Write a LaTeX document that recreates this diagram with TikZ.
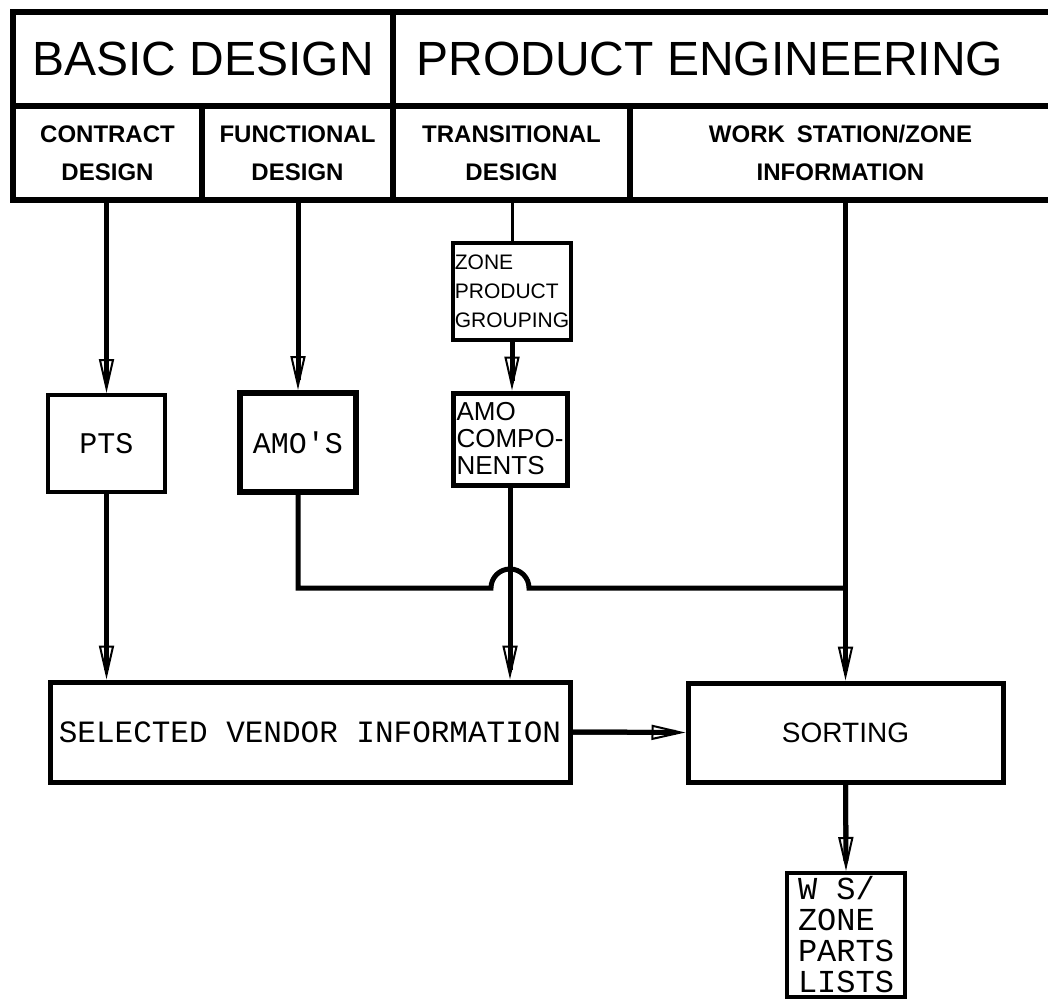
\documentclass[tikz,border=0pt]{standalone}
\usepackage{fontspec}
\setmainfont{Liberation Sans}
\newfontfamily\plotfont{Liberation Mono}
\usetikzlibrary{arrows.meta, calc}

\begin{document}
\begin{tikzpicture}[
  x=0.5pt, y=0.5pt,
  cell/.style={rectangle, draw=black, line width=3pt, minimum height=47pt, inner sep=0pt, align=center},
  toplabel/.style={font=\fontsize{24}{28}\selectfont},
  sublabel/.style={font=\fontsize{12}{19}\selectfont\bfseries},
  box/.style={rectangle, draw=black, line width=2pt, inner sep=1pt, align=center},
  plot/.style={font=\plotfont\fontsize{15}{17}\selectfont},
  arrow/.style={line width=2.5pt, -{Triangle[open, length=17pt, width=7.5pt, line width=1pt]},
                postaction={draw, line width=2.5pt, -, shorten >=5pt}},
  link/.style={line width=2.5pt}
]
\useasboundingbox (0,0) rectangle (1048,998);

% Header: design stages
\node[cell, toplabel, minimum width=190pt] (basic) at (203,939) {BASIC DESIGN};
\node[cell, toplabel, minimum width=329pt] (product) at (722,939) {PRODUCT ENGINEERING\hspace*{12pt}};
\node[cell, sublabel, minimum width=94.5pt] (contract) at (107.5,845) {CONTRACT\\DESIGN};
\node[cell, sublabel, minimum width=95.5pt] (functional) at (297.5,845) {FUNCTIONAL\\DESIGN};
\node[cell, sublabel, minimum width=118.5pt] (transitional) at (511.5,845) {TRANSITIONAL\\DESIGN};
\node[cell, sublabel, minimum width=210.5pt] (workstation) at (840.5,845) {WORK\enspace STATION/ZONE\\INFORMATION};

% Intermediate products
\node[box, plot, minimum width=58.5pt, minimum height=48.5pt] (pts) at (106.5,554.5) {PTS};
\node[box, plot, line width=3pt, minimum width=58pt, minimum height=49.5pt] (amos) at (298,555.5) {AMO'S};
\node[box, align=left, font=\fontsize{10.5}{14.5}\selectfont, minimum width=57pt, minimum height=48.5pt] (zpg) at (512,706.5)
  {ZONE\\PRODUCT\\GROUPING};
\node[box, align=left, line width=2.5pt, font=\fontsize{13}{13.5}\selectfont, minimum width=57pt, minimum height=46pt] (amocomp) at (510,559)
  {AMO\\COMPO-\\NENTS};

% Vendor info and sorting
\node[box, line width=2.5pt, font=\plotfont\fontsize{15.5}{17}\selectfont, minimum width=260pt, minimum height=50pt] (vendor) at (310,266)
  {SELECTED VENDOR INFORMATION};
\node[box, line width=2.5pt, font=\fontsize{14}{16}\selectfont, minimum width=157.5pt, minimum height=49.5pt] (sorting) at (845.5,265.5) {SORTING};
\node[box, align=left, font=\plotfont\fontsize{16}{15.5}\selectfont, minimum width=59pt, minimum height=62pt] (wslist) at (846,63)
  {W S/\\ZONE\\PARTS\\LISTS};

\coordinate (join) at (845.5,410);

% Flows
\draw[arrow] (contract.south -| pts.north) -- (pts.north);
\draw[arrow] (functional.south -| amos.north) -- (amos.north);
\draw[line width=1.5pt] (transitional.south -| zpg.north) -- (zpg.north);
\draw[arrow] (zpg.south) -- (zpg.south |- amocomp.north);
\draw[arrow] (sorting.north |- workstation.south) -- (sorting.north);
\draw[arrow] (pts.south) -- (pts.south |- vendor.north);
\draw[arrow] (amocomp.south) -- (amocomp.south |- vendor.north);
\draw[link] (amos.south) |- ($(amocomp.south |- join)+(-19,0)$)
  arc[start angle=180, end angle=0, radius=19] -- (join);
\draw[arrow] (vendor.east) -- (sorting.west);
\draw[arrow] (sorting.south) -- (wslist.north);

\end{tikzpicture}
\end{document}
